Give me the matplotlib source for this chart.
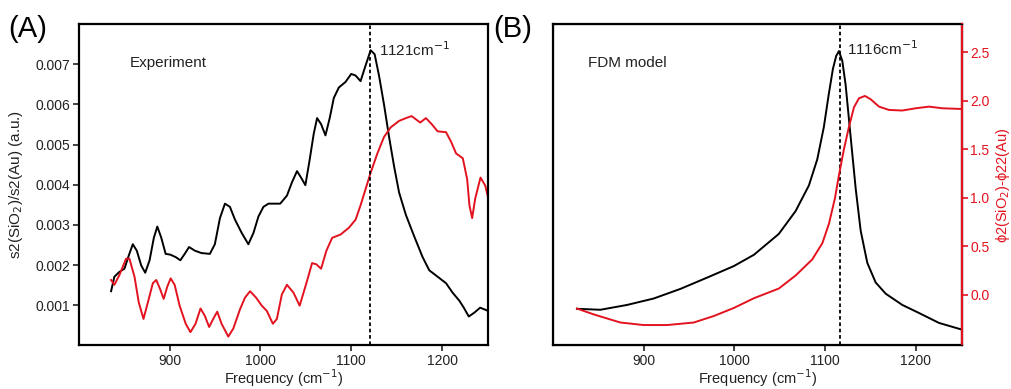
import numpy as np
import matplotlib.pyplot as plt

plt.rcParams['font.family'] = ['Liberation Sans', 'DejaVu Sans']

# ---- panel A : experiment (s2 ratio) ----
freq_a_black = [835.5, 839.1, 844.6, 850.2, 855.0, 859.4, 863.8, 868.7, 873.1, 877.9,
                882.6, 886.4, 890.8, 895.6, 900.8, 906.6, 911.8, 916.6, 921.4, 927.7,
                935.0, 944.3, 949.8, 955.4, 960.9, 966.4, 972.0, 979.4, 986.7, 992.3,
                997.8, 1003.3, 1008.8, 1016.2, 1021.8, 1029.2, 1034.7, 1040.3, 1044.7,
                1049.5, 1054.2, 1058.7, 1062.4, 1066.8, 1071.6, 1076.4, 1080.8, 1086.3,
                1093.7, 1100.0, 1104.8, 1110.3, 1115.8, 1121.4, 1125.8, 1130.6, 1136.1,
                1141.7, 1147.2, 1152.7, 1160.2, 1169.3, 1178.6, 1186.0, 1195.2, 1204.4,
                1211.8, 1219.2, 1224.0, 1229.5, 1235.8, 1242.0, 1247.6, 1252.4]
s2_black = [0.00135, 0.00171, 0.00183, 0.00191, 0.00224, 0.00252, 0.00236, 0.00199,
            0.00181, 0.00212, 0.00268, 0.00296, 0.00268, 0.00228, 0.00226, 0.00220,
            0.00212, 0.00228, 0.00245, 0.00236, 0.00230, 0.00228, 0.00252, 0.00317,
            0.00353, 0.00345, 0.00313, 0.00280, 0.00252, 0.00280, 0.00321, 0.00345,
            0.00353, 0.00353, 0.00353, 0.00373, 0.00406, 0.00434, 0.00418, 0.00399,
            0.00462, 0.00527, 0.00566, 0.00551, 0.00523, 0.00567, 0.00616, 0.00642,
            0.00656, 0.00676, 0.00672, 0.00658, 0.00697, 0.00735, 0.00725, 0.00672,
            0.00600, 0.00519, 0.00446, 0.00381, 0.00325, 0.00272, 0.00220, 0.00187,
            0.00171, 0.00155, 0.00131, 0.00111, 0.00094, 0.00072, 0.00082, 0.00094,
            0.00089, 0.00084]

freq_a_red = [835.5, 839.1, 844.6, 852.0, 855.7, 861.3, 866.0, 871.2, 876.0, 881.5,
              885.3, 889.7, 893.4, 897.5, 901.1, 905.5, 911.0, 917.7, 922.9, 928.5,
              934.0, 938.7, 943.5, 948.0, 952.4, 957.2, 964.6, 970.1, 977.5, 983.0,
              988.6, 995.2, 1001.5, 1007.0, 1013.7, 1018.1, 1023.6, 1029.2, 1036.5,
              1043.2, 1050.6, 1056.9, 1061.6, 1066.8, 1072.7, 1079.0, 1088.2, 1097.4,
              1104.8, 1110.3, 1115.9, 1121.4, 1128.8, 1136.1, 1143.5, 1152.7, 1160.2,
              1166.5, 1171.2, 1176.0, 1182.3, 1188.6, 1195.2, 1204.4, 1210.0, 1215.5,
              1222.9, 1227.7, 1230.2, 1233.2, 1236.5, 1242.4, 1247.6, 1252.4]
s2_red = [0.00163, 0.00151, 0.00175, 0.00216, 0.00216, 0.00171, 0.00107, 0.00066,
          0.00107, 0.00155, 0.00163, 0.00139, 0.00116, 0.00147, 0.00167, 0.00151,
          0.00099, 0.00054, 0.00033, 0.00054, 0.00092, 0.00074, 0.00046, 0.00066,
          0.00084, 0.00054, 0.00022, 0.00042, 0.00090, 0.00119, 0.00135, 0.00119,
          0.00099, 0.00086, 0.00054, 0.00066, 0.00127, 0.00151, 0.00131, 0.00099,
          0.00155, 0.00205, 0.00202, 0.00191, 0.00236, 0.00268, 0.00276, 0.00293,
          0.00313, 0.00349, 0.00390, 0.00430, 0.00478, 0.00519, 0.00543, 0.00559,
          0.00566, 0.00571, 0.00563, 0.00555, 0.00566, 0.00551, 0.00533, 0.00531,
          0.00507, 0.00478, 0.00466, 0.00414, 0.00349, 0.00317, 0.00365, 0.00418,
          0.00398, 0.00353]

# ---- panel B : FDM model ----
freq_b_black = [826.4, 852.2, 881.6, 911.0, 940.5, 969.9, 999.4, 1021.5, 1049.0,
                1067.5, 1082.2, 1091.4, 1098.7, 1104.0, 1108.7, 1112.3, 1115.3, 1119.0,
                1122.7, 1128.2, 1133.8, 1139.3, 1146.6, 1155.8, 1166.9, 1185.2, 1203.6,
                1225.7, 1250.0]
amp_b = [0.114, 0.111, 0.126, 0.146, 0.176, 0.211, 0.247, 0.282, 0.347, 0.418, 0.498,
         0.579, 0.680, 0.780, 0.861, 0.901, 0.916, 0.886, 0.811, 0.650, 0.488, 0.357,
         0.257, 0.196, 0.161, 0.126, 0.101, 0.070, 0.050]

freq_b_red = [826.4, 844.8, 874.3, 900.0, 925.7, 955.2, 977.3, 999.4, 1021.5, 1049.0,
              1067.5, 1085.9, 1097.0, 1104.3, 1111.0, 1115.3, 1120.8, 1126.4, 1131.9,
              1137.4, 1144.0, 1150.3, 1159.5, 1170.5, 1185.2, 1200.0, 1214.7, 1229.4,
              1250.0]
phase_b = [-0.140, -0.200, -0.284, -0.310, -0.310, -0.284, -0.217, -0.134, -0.034,
           0.066, 0.200, 0.366, 0.533, 0.733, 1.000, 1.233, 1.500, 1.733, 1.933, 2.026,
           2.050, 2.016, 1.940, 1.906, 1.900, 1.923, 1.940, 1.923, 1.916]

red = '#e3121f'
tick_col = '#222222'

fig = plt.figure(figsize=(10.11, 3.89), dpi=100)
fig.set_facecolor('white')

axA = fig.add_axes([0.078, 0.112, 0.405, 0.826])
axB = fig.add_axes([0.547, 0.112, 0.4045, 0.826])

for ax in (axA, axB):
    for sp in ax.spines.values():
        sp.set_linewidth(1.6)
    ax.set_xlim(800, 1251)
    ax.set_xticks([900, 1000, 1100, 1200])
    ax.tick_params(direction='out', length=4, width=1.2, labelsize=10, colors=tick_col, pad=2)
    ax.set_xlabel('Frequency (cm$^{-1}$)', fontsize=10.5, labelpad=0, color=tick_col)

# panel A
axA.plot(freq_a_black, s2_black, color='black', lw=1.4, solid_joinstyle='round')
axA.plot(freq_a_red, s2_red, color=red, lw=1.4, solid_joinstyle='round')
axA.axvline(1121, color='black', ls=(0, (2, 1.5)), lw=1.3)
axA.set_ylim(0, 0.008)
axA.set_yticks([0.001, 0.002, 0.003, 0.004, 0.005, 0.006, 0.007])
axA.set_yticklabels(['0.001', '0.002', '0.003', '0.004', '0.005', '0.006', '0.007'])
axA.set_ylabel('s2(SiO$_2$)/s2(Au) (a.u.)', fontsize=11, labelpad=8, color=tick_col)
axA.text(0.125, 0.865, 'Experiment', transform=axA.transAxes, fontsize=11, color=tick_col)
axA.text(1131, 0.0072, '1121cm$^{-1}$', fontsize=11, color=tick_col)

# panel B
axB.plot(freq_b_black, amp_b, color='black', lw=1.4, solid_joinstyle='round')
axB.set_ylim(0, 1)
axB.set_yticks([])
axB.axvline(1116, color='black', ls=(0, (2, 1.5)), lw=1.3)
axB.text(0.085, 0.865, 'FDM model', transform=axB.transAxes, fontsize=11, color=tick_col)
axB.text(1124, 0.905, '1116cm$^{-1}$', fontsize=11, color=tick_col)

axR = axB.twinx()
axR.plot(freq_b_red, phase_b, color=red, lw=1.4, solid_joinstyle='round')
axR.set_ylim(-0.52, 2.79)
axR.set_yticks([0.0, 0.5, 1.0, 1.5, 2.0, 2.5])
axR.tick_params(direction='out', length=4, width=1.2, labelsize=10, colors=red, pad=2)
axR.spines['right'].set_color(red)
axR.spines['right'].set_linewidth(1.6)
axR.set_ylabel('ϕ2(SiO$_2$)-ϕ22(Au)', fontsize=10.5, color=red, labelpad=3)

fig.text(0.008, 0.905, '(A)', fontsize=21, color='black')
fig.text(0.488, 0.905, '(B)', fontsize=21, color='black')

plt.savefig('out.png', dpi=100)
